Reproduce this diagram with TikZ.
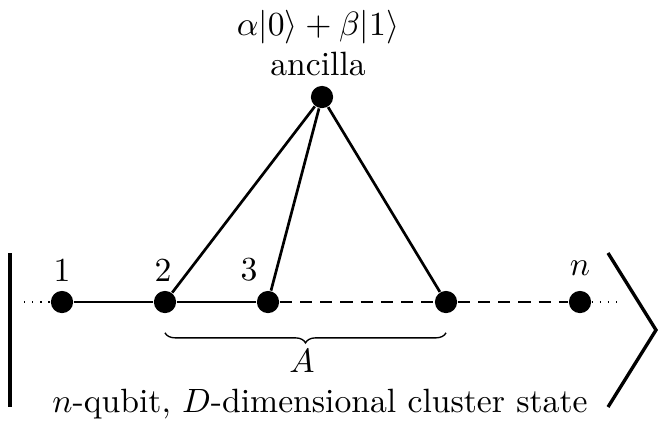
\documentclass[tikz,border=0pt]{standalone}
\usepackage{amsmath}
\usepackage{tikz}
\usetikzlibrary{positioning,decorations.pathreplacing}

\begin{document}
\begin{tikzpicture}[
    x=0.01044cm, y=-0.01044cm, % coordenadas em pixels
    qubit/.style={circle, fill, inner sep=0pt, minimum size=6.6pt},
    bond/.style={line width=0.8pt},
    weakbond/.style={line width=0.5pt, dash pattern=on 3.6pt off 2.4pt},
    delim/.style={line width=1pt}
]
\useasboundingbox (0,0) rectangle (658,424);

% --- Qubits da cadeia ---
\node[qubit] (Q1) at (62,302) {};
\node[qubit] (Q2) at (165,302) {};
\node[qubit] (Q3) at (268,302) {};
\node[qubit] (Q4) at (446,302) {};
\node[qubit] (Qn) at (580,302) {};
\node[qubit] (anc) at (322,97) {};

% Rótulos
\node (L1) at (62,270) {1};
\node (L2) at (163,270) {2};
\node (L3) at (249,270) {3};
\node (Ln) at (580,268) {$n$};
\node (ancL) [align=center] at (318,43) {$\alpha|0\rangle+\beta|1\rangle$\\ancilla};

% Pontinhos nas pontas
\coordinate (leftEnd) at (24,302);
\coordinate (rightEnd) at (620,302);
\draw[dotted] (leftEnd) -- (Q1);
\draw[dotted] (Qn) -- (rightEnd);

% Ligações
\draw[bond] (Q1) -- (Q2);
\draw[bond] (Q2) -- (Q3);
\draw[weakbond] (Q3) -- (Q4);
\draw[weakbond] (Q4) -- (Qn);
\draw[bond] (anc) -- (Q2);
\draw[bond] (anc) -- (Q3);
\draw[bond] (anc) -- (Q4);

% Chave do subconjunto A
\draw[decorate, decoration={brace, mirror, amplitude=3pt}]
    (Q2.south) ++(0,19) coordinate (braceL) -- (Q4.south |- braceL) coordinate (braceR);
\node (Alabel) at (302,361) {$A$};

% Ket grande
\coordinate (barTop) at (10,253);
\coordinate (barBot) at (10,407);
\coordinate (angTop) at (608,253);
\coordinate (angTip) at (656,330);
\coordinate (angBot) at (608,407);
\draw[delim] (barTop) -- (barBot);
\draw[delim] (angTop) -- (angTip) -- (angBot);

\node (caption) at (320,404) {$n$-qubit, $D$-dimensional cluster state};

\end{tikzpicture}
\end{document}
